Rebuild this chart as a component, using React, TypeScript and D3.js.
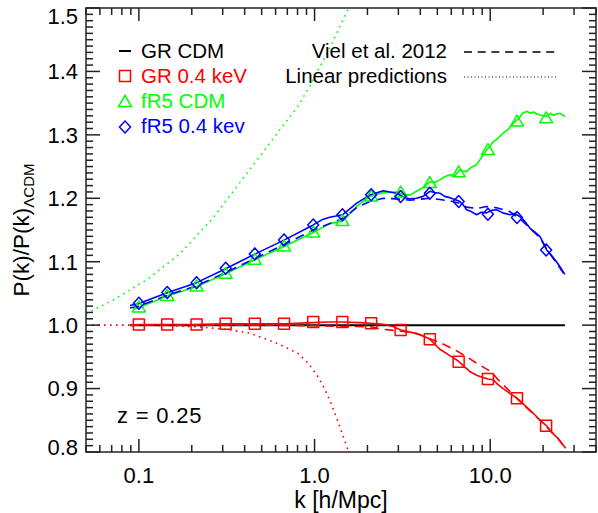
import React from 'react';
import * as d3 from 'd3';

// wavenumbers where the simulation symbols sit
const markerK = [0.1, 0.145, 0.213, 0.312, 0.457, 0.67, 0.983, 1.44, 2.1, 3.09, 4.53, 6.61, 9.7, 14.2, 20.8];

const grCdm = [[0.089, 1.0], [26.6, 1.0]];

const gr04Solid = [
  [0.089, 1.0], [0.1, 1.001], [0.2, 1.001], [0.312, 1.002], [0.67, 1.002], [0.983, 1.004], [1.2, 1.005],
  [1.44, 1.005], [1.8, 1.004], [2.1, 1.003], [2.46, 1.0015], [2.8, 0.998], [3.09, 0.9924], [3.5, 0.989],
  [4.0, 0.985], [4.53, 0.978], [5.17, 0.962], [5.8, 0.953], [6.61, 0.943], [7.1, 0.935], [7.65, 0.927],
  [8.36, 0.921], [9.0, 0.918], [9.7, 0.915], [10.4, 0.914], [11.0, 0.907], [11.84, 0.9], [13.0, 0.892],
  [14.2, 0.885], [15.8, 0.873], [17.6, 0.861], [19.2, 0.85], [20.9, 0.8415], [22.3, 0.831], [23.84, 0.824],
  [25.3, 0.815], [26.9, 0.806],
];
const gr04Marks = [1.001, 1.001, 1.001, 1.002, 1.002, 1.002, 1.005, 1.005, 1.003, 0.9924, 0.9778, 0.9424, 0.915, 0.8847, 0.8415];
const gr04Viel = [
  [0.089, 1.0], [0.5, 1.0], [1.0, 0.999], [1.44, 0.998], [2.06, 0.9976], [2.46, 0.9935], [3.0, 0.991],
  [3.81, 0.987], [4.5, 0.979], [5.33, 0.971], [6.3, 0.961], [7.36, 0.95], [8.6, 0.938], [10.1, 0.9267],
  [11.0, 0.915], [11.9, 0.9057], [13.0, 0.895], [14.2, 0.884], [15.8, 0.872], [17.6, 0.86], [19.2, 0.85],
  [20.9, 0.84], [22.3, 0.832], [23.84, 0.825], [25.3, 0.815], [26.6, 0.808],
];
const gr04Linear = [
  [0.05, 1.0], [0.1, 1.0], [0.15, 0.9995], [0.222, 0.997], [0.3, 0.994], [0.42, 0.988], [0.533, 0.978],
  [0.65, 0.968], [0.803, 0.9557], [0.92, 0.94], [1.043, 0.919], [1.14, 0.9], [1.24, 0.877], [1.35, 0.85],
  [1.45, 0.826], [1.55, 0.803], [1.6, 0.79],
];

const fr5Cdm = [
  [0.093, 1.025], [0.1, 1.028], [0.145, 1.046], [0.213, 1.061], [0.312, 1.081], [0.457, 1.103], [0.67, 1.124],
  [0.983, 1.146], [1.22, 1.16], [1.44, 1.164], [1.6, 1.176], [1.73, 1.187], [2.06, 1.203], [2.46, 1.209],
  [2.93, 1.21], [3.2, 1.206], [3.49, 1.205], [3.8, 1.211], [4.15, 1.217], [4.53, 1.226], [4.85, 1.225],
  [5.17, 1.229], [5.5, 1.234], [5.89, 1.237], [6.3, 1.236], [6.71, 1.245], [7.0, 1.243], [7.33, 1.242],
  [7.8, 1.249], [8.36, 1.253], [8.9, 1.264], [9.53, 1.276], [10.0, 1.283], [10.4, 1.289], [11.1, 1.295],
  [11.84, 1.303], [12.6, 1.308], [13.5, 1.318], [14.4, 1.325], [15.39, 1.335], [16.2, 1.337], [17.0, 1.334],
  [17.7, 1.336], [18.34, 1.333], [19.5, 1.331], [20.92, 1.329], [22.0, 1.334], [23.0, 1.331], [23.84, 1.333],
  [25.0, 1.334], [26.59, 1.329],
];
const fr5CdmMarks = [1.028, 1.046, 1.061, 1.081, 1.103, 1.124, 1.146, 1.164, 1.203, 1.209, 1.224, 1.241, 1.276, 1.321, 1.326];
const fr5CdmLinear = [
  [0.05, 1.018], [0.0714, 1.0397], [0.1106, 1.0713], [0.171, 1.1123], [0.2648, 1.1691], [0.41, 1.2385],
  [0.6346, 1.3079], [0.8035, 1.3445], [0.9404, 1.3773], [1.222, 1.4372], [1.547, 1.4972], [1.6, 1.51],
];

const fr504Solid = [
  [0.089, 1.031], [0.1, 1.034], [0.145, 1.051], [0.213, 1.067], [0.312, 1.089], [0.457, 1.112], [0.67, 1.134],
  [0.983, 1.158], [1.1, 1.166], [1.22, 1.17], [1.44, 1.174], [1.6, 1.184], [1.73, 1.192], [2.06, 1.205],
  [2.46, 1.212], [2.93, 1.208], [3.2, 1.202], [3.49, 1.199], [3.8, 1.2], [4.15, 1.203], [4.53, 1.211],
  [4.8, 1.209], [5.17, 1.208], [5.5, 1.203], [5.89, 1.201], [6.3, 1.198], [6.71, 1.195], [7.0, 1.19],
  [7.33, 1.182], [7.8, 1.179], [8.36, 1.174], [8.9, 1.178], [9.53, 1.177], [10.2, 1.181], [10.86, 1.182],
  [11.8, 1.177], [12.93, 1.174], [13.8, 1.176], [14.74, 1.171], [15.7, 1.164], [16.81, 1.153], [17.9, 1.147],
  [19.16, 1.14], [20.0, 1.13], [20.92, 1.119], [22.3, 1.11], [23.84, 1.1], [25.2, 1.09], [26.59, 1.08],
];
const fr504Marks = [1.0345, 1.0513, 1.067, 1.0897, 1.1123, 1.1344, 1.158, 1.174, 1.2054, 1.2027, 1.208, 1.195, 1.175, 1.1696, 1.1186];
const fr504Viel = [
  [0.089, 1.027], [0.1, 1.03], [0.145, 1.047], [0.213, 1.062], [0.312, 1.083], [0.457, 1.105], [0.67, 1.127],
  [0.983, 1.15], [1.44, 1.168], [1.73, 1.185], [2.06, 1.195], [2.46, 1.2], [2.93, 1.199], [3.49, 1.197],
  [4.15, 1.199], [4.53, 1.2], [5.17, 1.198], [5.89, 1.196], [6.71, 1.192], [7.33, 1.186], [8.36, 1.184],
  [9.53, 1.187], [10.86, 1.185], [12.93, 1.179], [14.74, 1.168], [16.81, 1.153], [19.16, 1.138],
  [20.92, 1.12], [23.84, 1.098], [26.59, 1.079],
];

const yTicks = [0.8, 0.9, 1.0, 1.1, 1.2, 1.3, 1.4, 1.5];
const xTicks = [0.1, 1, 10];
const xTickLabels = ['0.1', '1.0', '10.0'];

const RED = '#ff0000';
const GREEN = '#00ff00';
const BLUE = '#0000ff';

const W = 598, H = 513;
const left = 86, right = 596, top = 8, bottom = 452;

const x = d3.scaleLog().domain([0.05, 40]).range([left, right]);
const y = d3.scaleLinear().domain([0.8, 1.5]).range([bottom, top]);
const line = d3.line<number[]>().x(d => x(d[0])).y(d => y(d[1]));

const xMinor: number[] = [];
[0.01, 0.1, 1, 10].forEach(dec => {
  for (let i = 2; i <= 9; i++) {
    const v = dec * i;
    if (v >= 0.05 && v <= 40 && !xTicks.includes(v)) xMinor.push(v);
  }
});
const yMinor = d3.range(80, 151).map(i => i / 100).filter(v => Math.round(v * 100) % 10 !== 0);

const square = (s: number) => `M${-s},${-s}H${s}V${s}H${-s}Z`;
const triangle = 'M0,-6.5L6.5,4.5L-6.5,4.5Z';
const diamond = 'M0,-6L5.5,0L0,6L-5.5,0Z';

const font = '"Liberation Sans", Arial, Helvetica, sans-serif';

// end labels are kept inside the frame, like IDL does
const yLabelPos = (t: number) => {
  const p = y(t);
  if (p < top + 8) return top + 8;
  if (p > bottom - 5) return bottom - 5;
  return p;
};

export default function App() {
  const sw = 1.6;
  const markers = (vals: number[], path: string, color: string) =>
    markerK.map((k, i) => (
      <path key={i} d={path} transform={`translate(${x(k)},${y(vals[i])})`} fill="none" stroke={color} strokeWidth={1.5} />
    ));

  return (
    <svg width={W} height={H} style={{ position: 'absolute', left: 0, top: 0, background: '#fff' }} fontFamily={font}>
      <defs>
        <clipPath id="plot">
          <rect x={left} y={top} width={right - left} height={bottom - top} />
        </clipPath>
      </defs>

      <g clipPath="url(#plot)" fill="none" strokeLinejoin="round">
        <path d={line(fr5CdmLinear) || ''} stroke={GREEN} strokeWidth={1.6} strokeDasharray="1.6,4.4" />
        <path d={line(gr04Linear) || ''} stroke={RED} strokeWidth={1.6} strokeDasharray="1.6,4.4" />
        <path d={line(grCdm) || ''} stroke="#000" strokeWidth={2} />
        <path d={line(fr5Cdm) || ''} stroke={GREEN} strokeWidth={sw} />
        <path d={line(fr504Viel) || ''} stroke={BLUE} strokeWidth={sw} strokeDasharray="9,6" />
        <path d={line(fr504Solid) || ''} stroke={BLUE} strokeWidth={sw} />
        <path d={line(gr04Viel) || ''} stroke={RED} strokeWidth={sw} strokeDasharray="9,6" />
        <path d={line(gr04Solid) || ''} stroke={RED} strokeWidth={sw} />
        {markers(fr5CdmMarks, triangle, GREEN)}
        {markers(fr504Marks, diamond, BLUE)}
        {markers(gr04Marks, square(5.5), RED)}
      </g>

      {/* frame and ticks */}
      <g stroke="#222" strokeWidth={1.5}>
        <rect x={left} y={top} width={right - left} height={bottom - top} fill="none" />
        {xTicks.map(t => (
          <g key={`xM${t}`}>
            <line x1={x(t)} x2={x(t)} y1={bottom} y2={bottom - 13} />
            <line x1={x(t)} x2={x(t)} y1={top} y2={top + 13} />
          </g>
        ))}
        {xMinor.map(t => (
          <g key={`xm${t}`}>
            <line x1={x(t)} x2={x(t)} y1={bottom} y2={bottom - 7} />
            <line x1={x(t)} x2={x(t)} y1={top} y2={top + 7} />
          </g>
        ))}
        {yTicks.map(t => (
          <g key={`yM${t}`}>
            <line x1={left} x2={left + 14} y1={y(t)} y2={y(t)} />
            <line x1={right} x2={right - 14} y1={y(t)} y2={y(t)} />
          </g>
        ))}
        {yMinor.map(t => (
          <g key={`ym${t}`}>
            <line x1={left} x2={left + 7} y1={y(t)} y2={y(t)} />
            <line x1={right} x2={right - 7} y1={y(t)} y2={y(t)} />
          </g>
        ))}
      </g>

      {/* tick labels */}
      <g fontSize={22} fill="#000">
        {yTicks.map(t => (
          <text key={`yl${t}`} x={78} y={yLabelPos(t)} dy="0.36em" textAnchor="end">{t.toFixed(1)}</text>
        ))}
        {xTicks.map((t, i) => (
          <text key={`xl${t}`} x={x(t)} y={483} textAnchor="middle">{xTickLabels[i]}</text>
        ))}
      </g>

      {/* axis titles */}
      <text x={(left + right) / 2} y={508} textAnchor="middle" fontSize={23}>k [h/Mpc]</text>
      <text transform={`translate(29,${(top + bottom) / 2}) rotate(-90)`} textAnchor="middle" fontSize={22.5}>
        P(k)/P(k)<tspan fontSize={15} dy={5}>ΛCDM</tspan>
      </text>

      {/* legend left */}
      <g fontSize={20.5}>
        <line x1={119} x2={131} y1={51} y2={51} stroke="#000" strokeWidth={2} />
        <text x={141} y={58} fill="#000">GR CDM</text>
        <path d={square(5.5)} transform="translate(125,76)" fill="none" stroke={RED} strokeWidth={1.5} />
        <text x={141} y={83} fill={RED}>GR 0.4 keV</text>
        <path d={triangle} transform="translate(125,102)" fill="none" stroke={GREEN} strokeWidth={1.5} />
        <text x={141} y={108} fill={GREEN}>fR5 CDM</text>
        <path d={diamond} transform="translate(125,127)" fill="none" stroke={BLUE} strokeWidth={1.5} />
        <text x={141} y={133} fill={BLUE}>fR5 0.4 kev</text>
      </g>

      {/* legend right */}
      <g fontSize={20.5} fill="#000">
        <text x={447} y={58} textAnchor="end">Viel et al. 2012</text>
        <line x1={464} x2={558} y1={52} y2={52} stroke="#000" strokeWidth={1.3} strokeDasharray="8,5.7" />
        <text x={447} y={83} textAnchor="end">Linear predictions</text>
        <line x1={464} x2={558} y1={77} y2={77} stroke="#000" strokeWidth={1.2} strokeDasharray="1,2.5" />
      </g>

      <text x={117} y={423} fontSize={22} letterSpacing={0.8} fill="#000">z = 0.25</text>
    </svg>
  );
}
